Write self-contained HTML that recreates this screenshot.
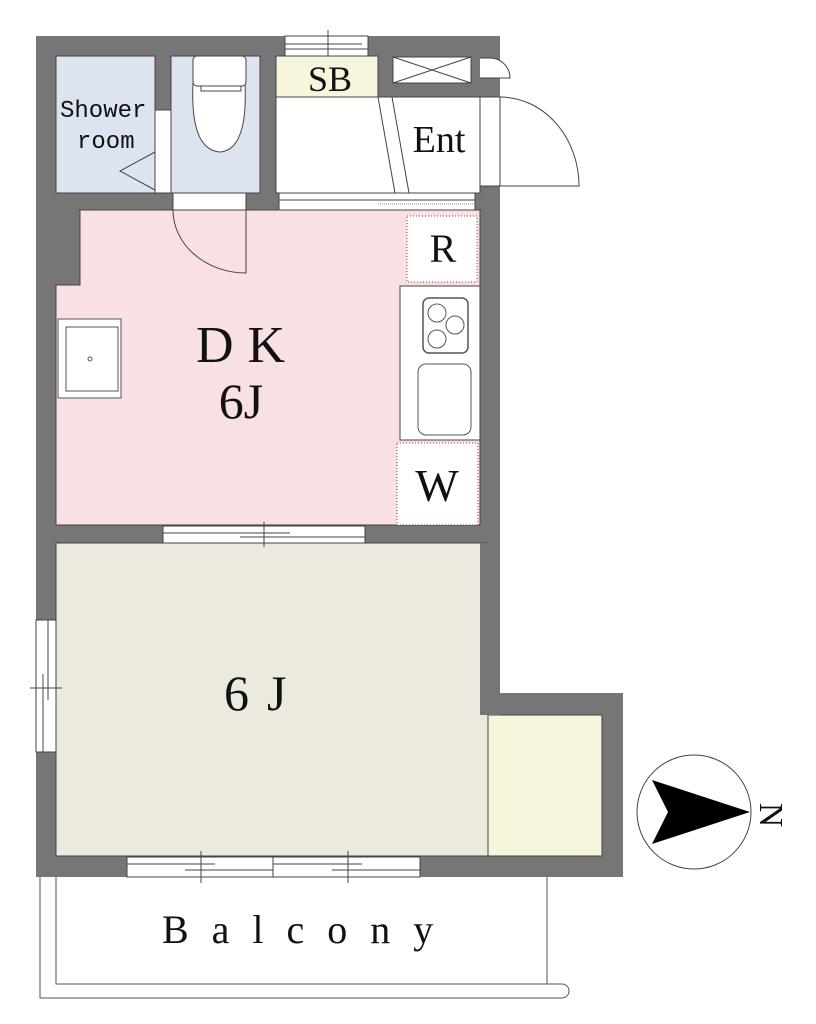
<!DOCTYPE html>
<html><head><style>body{margin:0;background:#fff}svg{display:block}</style></head>
<body>
<svg width="816" height="1024" viewBox="0 0 816 1024" xmlns="http://www.w3.org/2000/svg" font-family="Liberation Serif, serif">
<path d="M36 36 H500 V693 H623 V877 H36 Z" fill="#767676"/>
<rect x="56" y="56" width="99" height="137" fill="#dde4f1" stroke="#444" stroke-width="1"/>
<rect x="171" y="56" width="89" height="137" fill="#dde4f1" stroke="#444" stroke-width="1"/>
<rect x="276" y="56" width="102" height="41" fill="#f7f5dc" stroke="#444" stroke-width="1"/>
<rect x="276" y="97" width="204" height="96" fill="#fff" stroke="#444" stroke-width="1"/>
<line x1="378" y1="97" x2="395" y2="193" stroke="#444"/><line x1="392" y1="97" x2="409" y2="193" stroke="#444"/>
<rect x="285" y="36" width="83" height="20" fill="#fff" stroke="#444"/>
<line x1="285" y1="44" x2="362" y2="44" stroke="#444"/><line x1="285" y1="49" x2="368" y2="49" stroke="#444"/>
<line x1="328" y1="30" x2="328" y2="56" stroke="#444"/>
<rect x="155" y="110" width="16" height="83" fill="#fff" stroke="#444"/>
<polyline points="155,152 120,171 155,190" fill="none" stroke="#444"/>
<path d="M193 83 Q190 150 220 152 Q248 150 245 83 Z" fill="#fff" stroke="#444"/>
<rect x="193" y="56" width="53" height="30" rx="4" fill="#fff" stroke="#444"/>
<rect x="201" y="86" width="40" height="5" fill="#fff" stroke="#444"/>
<rect x="393" y="57" width="78" height="26" fill="#fff" stroke="#444"/>
<path d="M393 57 L471 83 M471 57 L393 83" stroke="#444"/>
<path d="M480 58 H490 A20 20 0 0 1 510 78 H480" fill="#fff" stroke="#444"/>
<rect x="480" y="97" width="20" height="89" fill="#fff" stroke="#444"/>
<path d="M500 97 A79 89 0 0 1 579 186 H500" fill="none" stroke="#444"/>
<path d="M80 210 H480 V525 H56 V285 H80 Z" fill="#f9e1e3" stroke="#444"/>
<rect x="173" y="193" width="73" height="17" fill="#fff" stroke="#444"/>
<path d="M173 210 A73 63 0 0 0 246 273 V210" fill="none" stroke="#444"/>
<rect x="279" y="193" width="196" height="17" fill="#fff" stroke="#444"/>
<line x1="279" y1="200" x2="475" y2="200" stroke="#444"/><line x1="378" y1="204" x2="475" y2="204" stroke="#888" stroke-dasharray="1 1"/>
<rect x="407" y="216" width="70" height="66" fill="#fff" stroke="#a33" stroke-dasharray="1 2"/>
<rect x="400" y="286" width="80" height="154" fill="#fff" stroke="#444"/>
<rect x="423" y="298" width="45" height="55" rx="6" fill="#fff" stroke="#555" stroke-width="1.5"/>
<circle cx="437" cy="313" r="9" fill="none" stroke="#555"/><circle cx="455" cy="325" r="9" fill="none" stroke="#555"/><circle cx="437" cy="339" r="9" fill="none" stroke="#555"/>
<rect x="418" y="364" width="53" height="71" rx="8" fill="#fff" stroke="#555"/>
<rect x="397" y="443" width="81" height="82" fill="#fff" stroke="#a33" stroke-dasharray="1 2"/>
<rect x="58" y="319" width="63" height="79" fill="#fff" stroke="#555"/>
<rect x="66" y="327" width="52" height="64" fill="#fff" stroke="#555"/>
<circle cx="90" cy="359" r="2" fill="none" stroke="#555"/>
<rect x="56" y="543" width="432" height="313" fill="#ece9df" stroke="#444"/>
<rect x="488" y="715" width="114" height="141" fill="#f7f5dc" stroke="#444"/>
<rect x="480" y="543" width="20" height="172" fill="#767676"/>
<rect x="163" y="526" width="202" height="17" fill="#fff" stroke="#444"/>
<line x1="163" y1="533" x2="290" y2="533" stroke="#444"/><line x1="240" y1="537" x2="365" y2="537" stroke="#444"/><line x1="264" y1="522" x2="264" y2="547" stroke="#444"/>
<rect x="36" y="620" width="20" height="132" fill="#fff" stroke="#444"/>
<line x1="43" y1="674" x2="43" y2="752" stroke="#444"/><line x1="48" y1="620" x2="48" y2="700" stroke="#444"/><line x1="30" y1="688" x2="62" y2="688" stroke="#444"/>
<rect x="127" y="857" width="293" height="20" fill="#fff" stroke="#444"/>
<line x1="273" y1="857" x2="273" y2="877" stroke="#444"/>
<line x1="127" y1="864" x2="215" y2="864" stroke="#444"/><line x1="185" y1="870" x2="273" y2="870" stroke="#444"/>
<line x1="273" y1="864" x2="362" y2="864" stroke="#444"/><line x1="332" y1="870" x2="420" y2="870" stroke="#444"/>
<line x1="201" y1="851" x2="201" y2="883" stroke="#444"/><line x1="348" y1="851" x2="348" y2="883" stroke="#444"/>
<path d="M40 877 V998 H562 A7 7 0 0 0 562 984 H56 V877" fill="none" stroke="#555"/>
<line x1="547" y1="877" x2="547" y2="984" stroke="#555"/>
<circle cx="694" cy="812" r="57" fill="#fff" stroke="#444"/>
<path d="M652 780 L750 812 L652 844 L668 812 Z" fill="#000"/>
<g fill="#111">
<text x="60" y="117" font-size="24" font-family="Liberation Mono, monospace">Shower</text>
<text x="77" y="148" font-size="24" font-family="Liberation Mono, monospace">room</text>
<text x="330" y="91" font-size="36" text-anchor="middle">SB</text>
<text x="439" y="152" font-size="38" text-anchor="middle">Ent</text>
<text x="443" y="262" font-size="40" text-anchor="middle">R</text>
<text x="437" y="501" font-size="46" text-anchor="middle">W</text>
<text x="196" y="362" font-size="52" letter-spacing="14">DK</text>
<text x="241" y="418" font-size="50" text-anchor="middle">6J</text>
<text x="224" y="710" font-size="50" letter-spacing="18">6J</text>
<text x="162" y="943" font-size="40" letter-spacing="23">Balcony</text>
<text x="772" y="815" font-size="34" text-anchor="middle" transform="rotate(90 772 815)" dy="12">N</text>
</g>
</svg>
</body></html>
